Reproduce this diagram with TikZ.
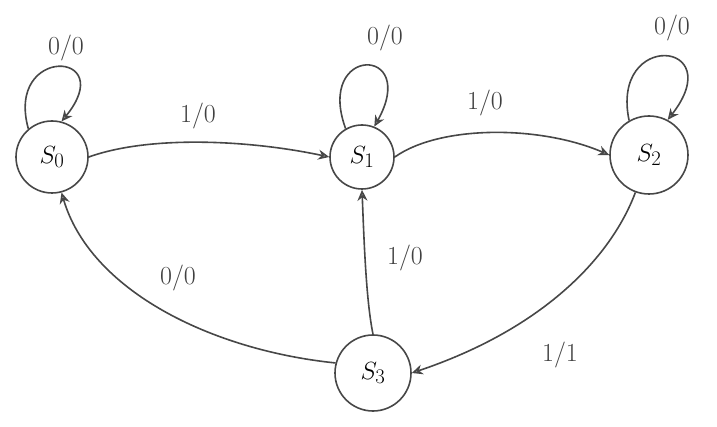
\documentclass[tikz,border=0pt]{standalone}
\usetikzlibrary{arrows.meta}
\begin{document}
\begin{tikzpicture}[x=1pt,y=-1pt,
  ink/.style={draw=black!72,line width=1.6pt},
  state/.style={ink,circle,minimum size=#1,inner sep=0pt,font=\fontsize{32}{34}\selectfont},
  edge/.style={ink,-{Stealth[length=11pt,width=10pt,open,fill=black!35]}},
  lbl/.style={font=\fontsize{26}{28}\selectfont,text=black!75}]
\useasboundingbox (0,0) rectangle (717,427);
\node[state=72pt] (s0) at (52,157) {$S_0$};
\node[state=64pt] (s1) at (362,157) {$S_1$};
\node[state=78pt] (s2) at (649,155) {$S_2$};
\node[state=76pt] (s3) at (373,373) {$S_3$};
% self loops
\draw[edge] (s0.130) .. controls (5,45) and (120,50) .. (s0.75);
\draw[edge] (s1.120) .. controls (315,45) and (420,45) .. (s1.68);
\draw[edge] (s2.120) .. controls (610,30) and (730,40) .. (s2.62);
% transitions
\draw[edge] (s0.east) .. controls (150,135) and (250,140) .. (s1.west);
\draw[edge] (s1.east) .. controls (440,125) and (540,125) .. (s2.west);
\draw[edge] (s2.-110) .. controls (610,260) and (540,330) .. (s3.east);
\draw[edge] (s3.north) .. controls (366,300) and (364,240) .. (s1.south);
\draw[edge] (s3.165) .. controls (210,350) and (90,290) .. (s0.-75);
% labels
\node[lbl] (l00a) at (66,48) {0/0};
\node[lbl] (l00b) at (385,38) {0/0};
\node[lbl] (l00c) at (672,28) {0/0};
\node[lbl] (l10a) at (198,116) {1/0};
\node[lbl] (l10b) at (485,103) {1/0};
\node[lbl] (l10c) at (405,258) {1/0};
\node[lbl] (l00d) at (178,278) {0/0};
\node[lbl] (l11) at (560,355) {1/1};
\end{tikzpicture}
\end{document}
